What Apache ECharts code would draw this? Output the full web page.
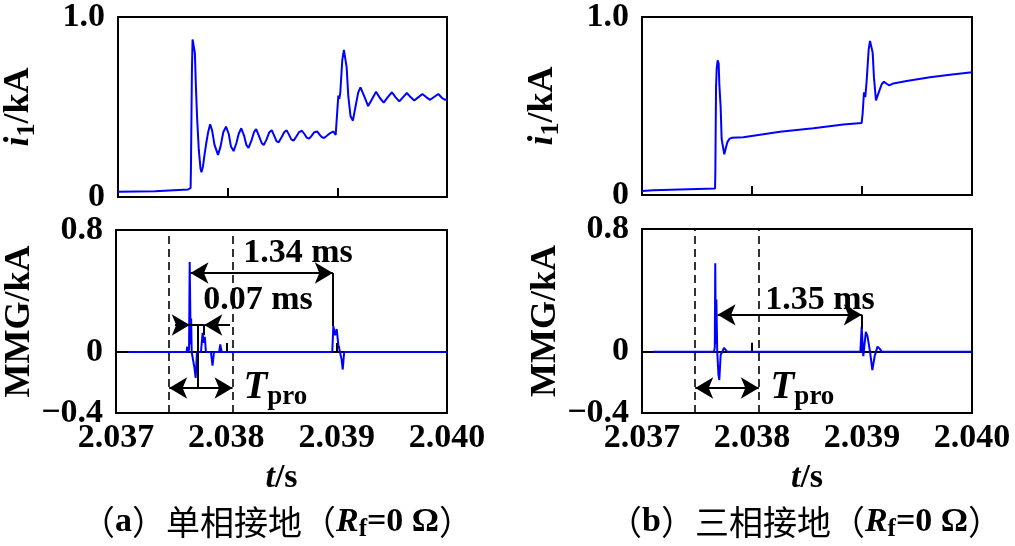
<!DOCTYPE html>
<html><head><meta charset="utf-8">
<script src="https://cdn.jsdelivr.net/npm/echarts@6/dist/echarts.min.js"></script>
<style>html,body{margin:0;padding:0;background:#fff}#c{width:1015px;height:546px}</style>
</head><body><div id="c"></div>
<script>
// x values are ms after 2.037 s
const xTickLabels = ['2.037', '2.038', '2.039', '2.040'];
const yTopTicks = [0, 1];
const yTopTickLabels = ['0', '1.0'];
const yBotTicks = [-0.4, 0, 0.8];
const yBotTickLabels = ['\u22120.4', '0', '0.8'];

// (a) single-phase: i1
const tI1a = [0.000,0.338,0.344,0.640,0.662,0.665,0.674,0.680,0.695,0.701,0.710,0.722,0.737,0.752,0.761,0.775,0.790,0.805,0.822,0.840,0.858,0.880,0.912,0.935,0.960,0.985,1.010,1.030,1.054,1.080,1.100,1.124,1.150,1.170,1.190,1.215,1.240,1.260,1.285,1.310,1.329,1.355,1.380,1.402,1.425,1.445,1.465,1.490,1.515,1.538,1.560,1.580,1.601,1.625,1.650,1.677,1.700,1.720,1.743,1.765,1.790,1.816,1.840,1.860,1.879,1.905,1.935,1.964,1.985,2.000,2.009,2.018,2.027,2.045,2.060,2.076,2.085,2.100,2.120,2.142,2.165,2.190,2.211,2.245,2.281,2.317,2.353,2.388,2.423,2.460,2.498,2.530,2.565,2.600,2.634,2.668,2.701,2.740,2.776,2.810,2.846,2.885,2.921,2.955,2.982,3.000];
const i1a  = [0.029,0.032,0.038,0.042,0.050,0.150,0.700,0.875,0.875,0.800,0.620,0.430,0.260,0.160,0.138,0.170,0.240,0.300,0.360,0.404,0.370,0.290,0.234,0.280,0.360,0.391,0.350,0.280,0.255,0.300,0.350,0.382,0.340,0.290,0.273,0.310,0.360,0.377,0.340,0.300,0.288,0.320,0.360,0.371,0.340,0.310,0.304,0.330,0.360,0.370,0.345,0.320,0.313,0.335,0.360,0.368,0.350,0.330,0.324,0.340,0.360,0.364,0.345,0.332,0.328,0.340,0.355,0.364,0.345,0.337,0.563,0.545,0.580,0.760,0.817,0.817,0.720,0.560,0.450,0.424,0.500,0.580,0.609,0.560,0.505,0.545,0.585,0.550,0.524,0.555,0.582,0.555,0.531,0.555,0.578,0.555,0.536,0.555,0.572,0.555,0.540,0.557,0.572,0.550,0.540,0.545];

// (a) single-phase: MMG
const tMa = [0.112,0.640,0.645,0.655,0.662,0.668,0.673,0.677,0.681,0.686,0.700,0.710,0.722,0.734,0.770,0.785,0.795,0.805,0.815,0.860,0.875,0.888,0.935,0.945,0.958,1.960,1.970,1.985,2.000,2.015,2.030,2.045,2.055,2.068,3.000];
const mMa = [0,0,0.035,0,0.02,0.59,0.59,0.05,0.22,0,0,-0.10,-0.17,0,0,0.125,0.06,0.10,0,0,-0.09,0,0,0.05,0,0,0.17,0.11,0.15,0.05,0,-0.05,-0.115,0,0];

// (b) three-phase: i1
const tI1b = [0.000,0.103,0.421,0.664,0.667,0.673,0.679,0.688,0.697,0.703,0.715,0.724,0.739,0.748,0.761,0.776,0.794,0.815,0.921,1.255,1.558,1.830,1.997,2.006,2.018,2.030,2.042,2.061,2.073,2.085,2.097,2.109,2.127,2.139,2.158,2.179,2.200,2.224,2.248,2.285,2.406,2.618,2.800,3.000];
const i1b  = [0.022,0.027,0.032,0.036,0.135,0.604,0.710,0.757,0.739,0.620,0.495,0.315,0.261,0.229,0.261,0.297,0.315,0.321,0.324,0.355,0.375,0.396,0.405,0.459,0.577,0.550,0.640,0.820,0.865,0.856,0.800,0.658,0.532,0.532,0.586,0.622,0.636,0.625,0.616,0.627,0.640,0.661,0.676,0.690];

// (b) three-phase: MMG
const tMb = [0.100,0.655,0.662,0.666,0.671,0.676,0.684,0.695,0.703,0.715,0.730,0.745,0.760,0.775,1.985,1.997,2.012,2.035,2.050,2.073,2.094,2.115,2.141,2.160,2.179,3.000];
const mMb = [0,0,0.03,0.577,0.05,0.34,0,-0.15,-0.185,-0.02,0,0.025,0.03,0,0,0.163,-0.03,0.13,0.10,0,-0.12,-0.03,0.033,0.02,0,0];

const pairs = (t, v) => t.map((x, i) => [x, v[i]]);

const FONT = '"Liberation Serif","Times New Roman",serif';
const BLUE = '#0000ff';
const AS = [16, 18];

function xAxis(grid, labels) {
  return {
    type: 'value', gridIndex: grid, min: 0, max: 3, interval: 1,
    axisLine: { show: true, lineStyle: { color: '#000', width: 2 } },
    axisTick: { show: true, inside: true, length: 9, lineStyle: { color: '#000', width: 2 } },
    splitLine: { show: false },
    axisLabel: { show: labels, margin: 8, color: '#000', fontFamily: FONT, fontWeight: 'bold', fontSize: 34,
      formatter: v => xTickLabels[Math.round(v)] },
    name: labels ? '{it|t}{n|/s}' : '', nameLocation: 'middle', nameGap: 48,
    nameTextStyle: { color: '#000', fontFamily: FONT, fontWeight: 'bold', fontSize: 34,
      rich: { it: { fontStyle: 'italic', fontWeight: 'bold', fontFamily: FONT, fontSize: 34, color: '#000' },
              n: { fontWeight: 'bold', fontFamily: FONT, fontSize: 34, color: '#000' } } }
  };
}
function yAxis(grid, top) {
  const ticks = top ? yTopTicks : yBotTicks;
  const lbls = top ? yTopTickLabels : yBotTickLabels;
  return {
    type: 'value', gridIndex: grid,
    min: top ? 0 : -0.4, max: top ? 1 : 0.8, interval: top ? 1 : 0.4,
    axisLine: { show: true, lineStyle: { color: '#000', width: 2 } },
    axisTick: { show: false },
    splitLine: { show: false },
    axisLabel: { margin: 13, color: '#000', fontFamily: FONT, fontWeight: 'bold', fontSize: 34,
      formatter: v => { const k = ticks.findIndex(t => Math.abs(t - v) < 1e-6); return k < 0 ? '' : lbls[k]; } },
    name: top ? '{i|i}{s|1}{n|/kA}' : '{n|MMG/kA}',
    nameLocation: 'middle', nameGap: 78,
    nameTextStyle: { color: '#000', fontFamily: FONT, fontWeight: 'bold', fontSize: 36,
      rich: {
        i: { fontStyle: 'italic', fontWeight: 'bold', fontFamily: FONT, fontSize: 36, color: '#000' },
        s: { fontFamily: FONT, fontWeight: 'bold', fontSize: 26, color: '#000', padding: [16, 0, 0, 0] },
        n: { fontFamily: FONT, fontWeight: 'bold', fontSize: 36, color: '#000' }
      } }
  };
}
const txt = s => ({ show: true, position: 'inside', color: '#000', fontFamily: FONT, fontWeight: 'bold', fontSize: 34, formatter: s });
const tproLabel = (x, y) => ({
  coord: [x, y],
  label: { show: true, position: 'right', distance: 0, color: '#000', formatter: '{t|T}{s|pro}',
    rich: { t: { fontStyle: 'italic', fontWeight: 'bold', fontFamily: FONT, fontSize: 39, color: '#000' },
            s: { fontFamily: FONT, fontWeight: 'bold', fontSize: 27, color: '#000', padding: [18, 0, 0, 0] } } }
});
const arr = (x1, y1, x2, y2, s1, s2) => [
  { coord: [x1, y1], symbol: s1 ? 'arrow' : 'none', symbolSize: AS },
  { coord: [x2, y2], symbol: s2 ? 'arrow' : 'none', symbolSize: AS }
];
const dash = x => ({ xAxis: x, lineStyle: { type: [8, 5], width: 1.6, color: '#000' } });

const mlBase = { silent: true, animation: false, symbol: ['none', 'none'], symbolSize: AS, label: { show: false },
  lineStyle: { color: '#000', width: 2, type: 'solid' }, emphasis: { disabled: true } };
const mpBase = { silent: true, animation: false, symbol: 'rect', symbolSize: 1,
  itemStyle: { color: 'rgba(0,0,0,0)' } };

const lineSeries = (xi, data) => ({
  type: 'line', xAxisIndex: xi, yAxisIndex: xi, data: data, showSymbol: false, symbol: 'none',
  lineStyle: { color: BLUE, width: 2 }, itemStyle: { color: BLUE }, animation: false, silent: true
});

const sMa = lineSeries(1, pairs(tMa, mMa));
sMa.markLine = Object.assign({}, mlBase, { data: [
  dash(0.48), dash(1.058),
  arr(0, 0, 0.11, 0, false, false),
  arr(0.675, 0.518, 1.965, 0.518, true, true),
  arr(1.967, 0.518, 1.967, 0.17, false, false),
  arr(0.535, 0.177, 0.668, 0.177, false, true),
  arr(1.034, 0.177, 0.800, 0.177, false, true),
  arr(0.671, 0.177, 0.798, 0.177, false, false),
  arr(0.743, 0.177, 0.743, -0.23, false, false),
  arr(0.798, 0.177, 0.798, 0.11, false, false),
  arr(0.482, -0.236, 1.056, -0.236, true, true)
] });
sMa.markPoint = Object.assign({}, mpBase, { data: [
  { coord: [1.65, 0.65], label: txt('1.34 ms') },
  { coord: [1.287, 0.34], label: txt('0.07 ms') },
  tproLabel(1.151, -0.236)
] });

const sMb = lineSeries(3, pairs(tMb, mMb));
sMb.markLine = Object.assign({}, mlBase, { data: [
  dash(0.482), dash(1.064),
  arr(0, 0, 0.10, 0, false, false),
  arr(0.687, 0.24, 1.998, 0.24, true, true),
  arr(2.0, 0.24, 2.0, 0.15, false, false),
  arr(0.484, -0.237, 1.062, -0.237, true, true)
] });
sMb.markPoint = Object.assign({}, mpBase, { data: [
  { coord: [1.618, 0.337], label: txt('1.35 ms') },
  tproLabel(1.164, -0.237)
] });

const capRich = {
  c: { fontFamily: '"Noto Sans CJK SC"', fontSize: 34, color: '#000' },
  b: { fontFamily: FONT, fontWeight: 'bold', fontSize: 34, color: '#000' },
  ri: { fontFamily: FONT, fontWeight: 'bold', fontStyle: 'italic', fontSize: 34, color: '#000' },
  sub: { fontFamily: FONT, fontWeight: 'bold', fontSize: 25, color: '#000', padding: [16, 0, 0, 0] }
};
const caption = (x, letter) => ({
  type: 'text', x: x, y: 522, silent: true,
  style: { text: '{c|（}{b|' + letter + '}{c|）' + (letter === 'a' ? '单相接地' : '三相接地') + '（}{ri|R}{sub|f}{b|=0 Ω}{c|）}',
    rich: capRich, align: 'center', verticalAlign: 'middle' }
});

const grid = (l, t, w, h) => ({ left: l, top: t, width: w, height: h, show: true,
  borderColor: '#000', borderWidth: 2, backgroundColor: 'transparent' });

const option = {
  animation: false,
  backgroundColor: '#fff',
  grid: [grid(116, 12, 331, 185), grid(116, 230, 331, 183), grid(642, 10, 330, 185), grid(642, 229, 330, 184)],
  xAxis: [xAxis(0, false), xAxis(1, true), xAxis(2, false), xAxis(3, true)],
  yAxis: [yAxis(0, true), yAxis(1, false), yAxis(2, true), yAxis(3, false)],
  series: [lineSeries(0, pairs(tI1a, i1a)), sMa, lineSeries(2, pairs(tI1b, i1b)), sMb],
  graphic: [caption(277, 'a'), caption(805, 'b')]
};
const chart = echarts.init(document.getElementById('c'), null, { renderer: 'canvas' });
chart.setOption(option);
</script></body></html>
